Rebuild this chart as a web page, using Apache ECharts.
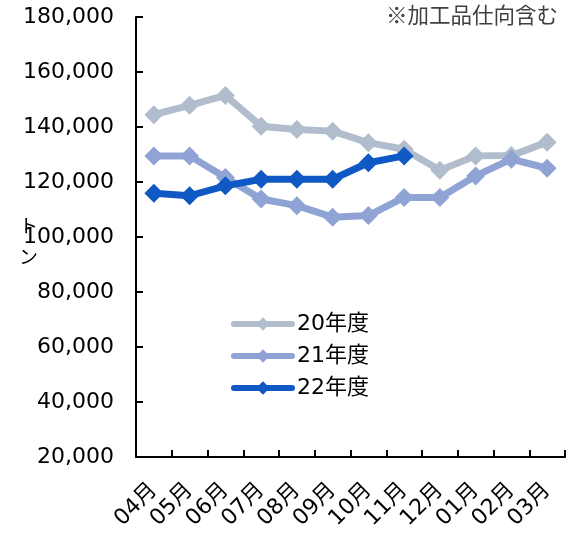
<!DOCTYPE html>
<html>
<head>
<meta charset="utf-8">
<script src="https://cdn.jsdelivr.net/npm/echarts@6/dist/echarts.min.js"></script>
<style>
  html, body { margin: 0; padding: 0; background: #fff; }
  #chart { width: 573px; height: 537px; }
</style>
</head>
<body>
<div id="chart"></div>
<script>
// Monthly volumes (tons) by fiscal year, April through March
const months = ['04月', '05月', '06月', '07月', '08月', '09月', '10月', '11月', '12月', '01月', '02月', '03月'];
const fy20 = [144500, 147900, 151500, 140300, 139100, 138500, 134300, 131900, 124300, 129500, 129600, 134500];
const fy21 = [129500, 129500, 121600, 113800, 111400, 107200, 107800, 114400, 114400, 122200, 128300, 125000];
const fy22 = [115900, 115000, 118600, 121000, 121000, 121000, 127000, 129500];
const seriesNames = ['20年度', '21年度', '22年度'];
const seriesColors = ['#B1BDCD', '#8FA3D4', '#1059C4'];

const latin = 'DejaVu Sans, "Noto Sans CJK JP", sans-serif';

const chart = echarts.init(document.getElementById('chart'), null, { renderer: 'canvas' });

function lineSeries(name, data, color) {
  return {
    name: name,
    type: 'line',
    data: data,
    symbol: 'diamond',
    symbolSize: 19,
    lineStyle: { color: color, width: 7 },
    itemStyle: { color: color },
    emphasis: { disabled: true },
    animation: false
  };
}

chart.setOption({
  animation: false,
  grid: { left: 136, right: 8, top: 17, bottom: 80 },
  legend: {
    orient: 'vertical',
    left: 231,
    top: 313,
    padding: 0,
    itemWidth: 58,
    itemHeight: 17,
    itemGap: 10,
    data: seriesNames,
    lineStyle: { width: 6, cap: 'round' },
    textStyle: { fontFamily: latin, fontSize: 22, color: '#000', lineHeight: 22 }
  },
  xAxis: {
    type: 'category',
    data: months,
    boundaryGap: true,
    axisLine: { lineStyle: { color: '#000', width: 2 } },
    axisTick: { show: true, inside: true, length: 7, interval: 0, lineStyle: { color: '#000', width: 2 } },
    axisLabel: {
      interval: 0,
      rotate: 45,
      margin: 30,
      fontFamily: latin,
      fontSize: 22,
      color: '#000'
    },
    splitLine: { show: false }
  },
  yAxis: {
    type: 'value',
    min: 20000,
    max: 180000,
    interval: 20000,
    axisLine: { show: true, lineStyle: { color: '#000', width: 2 } },
    axisTick: { show: true, inside: true, length: 7, lineStyle: { color: '#000', width: 2 } },
    axisLabel: {
      margin: 22,
      fontFamily: latin,
      fontSize: 22,
      color: '#000',
      formatter: v => v.toLocaleString('en-US')
    },
    splitLine: { show: false }
  },
  graphic: [
    {
      type: 'text',
      left: 386,
      top: 4,
      style: { text: '※加工品仕向含む', font: '21.5px "Noto Sans CJK JP", sans-serif', fill: '#404040' }
    },
    {
      type: 'text',
      left: 19,
      top: 210,
      z: 100,
      style: { text: 'ト\nン', font: '19px "Noto Sans CJK JP", sans-serif', fill: '#000', lineHeight: 31 }
    }
  ],
  series: [
    lineSeries(seriesNames[0], fy20, seriesColors[0]),
    lineSeries(seriesNames[1], fy21, seriesColors[1]),
    lineSeries(seriesNames[2], fy22, seriesColors[2])
  ]
});
</script>
</body>
</html>
